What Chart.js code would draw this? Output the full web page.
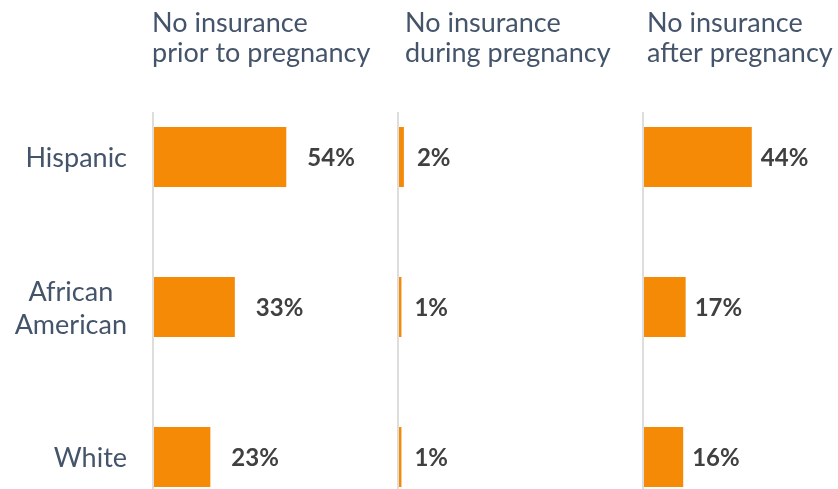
<!DOCTYPE html>
<html>
<head>
<meta charset="utf-8">
<script src="https://cdn.jsdelivr.net/npm/chart.js@4.4.1/dist/chart.umd.min.js"></script>
<style>
  html, body { margin: 0; padding: 0; background: #ffffff; overflow: hidden; width: 838px; height: 489px; }
  .panel { position: absolute; left: 0; top: 0; }
</style>
</head>
<body>
<canvas id="p0" class="panel" width="900" height="540"></canvas>
<canvas id="p1" class="panel" width="900" height="540"></canvas>
<canvas id="p2" class="panel" width="900" height="540"></canvas>
<script>
// Categories (multi-line where the label wraps)
const categories = ['Hispanic', ['African', 'American'], 'White'];

// Share of women without insurance, percent
const priorToPregnancy = [54, 33, 23];
const duringPregnancy = [2, 1, 1];
const afterPregnancy = [44, 17, 16];

// Panel headings
const headingPrior = ['No insurance', 'prior to pregnancy'];
const headingDuring = ['No insurance', 'during pregnancy'];
const headingAfter = ['No insurance', 'after pregnancy'];

// Value axis range shared by every panel
const valueMin = 0;
const valueMax = 100;

// Look and placement
const CANVAS_W = 900;
const PANEL_W = 245;
const BAR_COLOR = '#F58A07';
const TEXT_BLUE = '#44546A';
const TEXT_DARK = '#404040';
const AXIS_COLOR = '#DDDDDD';
const FONT = 'Lato, "Open Sans", sans-serif';

const panels = [
  { id: 'p0', values: priorToPregnancy, heading: headingPrior,  axisX: 154, headingX: 152, labelGap: 21, categoryLabels: true },
  { id: 'p1', values: duringPregnancy,  heading: headingDuring, axisX: 399, headingX: 405, labelGap: 13, categoryLabels: false },
  { id: 'p2', values: afterPregnancy,   heading: headingAfter,  axisX: 644, headingX: 647, labelGap: 9,  categoryLabels: false }
];

// Light vertical axis line at zero, starting a little above the first bar
const zeroLinePlugin = {
  id: 'zeroLine',
  beforeDatasetsDraw(chart) {
    const { ctx, chartArea, scales } = chart;
    const x = scales.x.getPixelForValue(0);
    ctx.save();
    ctx.strokeStyle = AXIS_COLOR;
    ctx.lineWidth = 2;
    ctx.beginPath();
    ctx.moveTo(x - 1, 112);
    ctx.lineTo(x - 1, chartArea.bottom);
    ctx.stroke();
    ctx.restore();
  }
};

// Percent labels to the right of each bar
const valueLabelPlugin = {
  id: 'valueLabels',
  afterDatasetsDraw(chart, args, opts) {
    const { ctx } = chart;
    const meta = chart.getDatasetMeta(0);
    const data = chart.data.datasets[0].data;
    ctx.save();
    ctx.font = 'bold 24px ' + FONT;
    ctx.fillStyle = TEXT_DARK;
    ctx.textAlign = 'left';
    ctx.textBaseline = 'alphabetic';
    meta.data.forEach((bar, i) => {
      ctx.fillText(data[i] + '%', bar.x + opts.gap, bar.y + 9);
    });
    ctx.restore();
  }
};

// Two-line heading above each panel
const headingPlugin = {
  id: 'heading',
  afterDraw(chart, args, opts) {
    const { ctx } = chart;
    ctx.save();
    ctx.font = '27px ' + FONT;
    ctx.fillStyle = TEXT_BLUE;
    ctx.textAlign = 'left';
    ctx.textBaseline = 'alphabetic';
    opts.lines.forEach((line, k) => ctx.fillText(line, opts.x, 32 + k * 30));
    ctx.restore();
  }
};

// Category names on the left, placed through the category scale
const categoryLabelPlugin = {
  id: 'categoryLabels',
  afterDraw(chart, args, opts) {
    if (!opts.show) return;
    const { ctx, scales } = chart;
    const lineH = 33;
    const rightEdge = 127;
    ctx.save();
    ctx.font = '27px ' + FONT;
    ctx.fillStyle = TEXT_BLUE;
    ctx.textAlign = 'center';
    ctx.textBaseline = 'alphabetic';
    chart.data.labels.forEach((label, i) => {
      const lines = Array.isArray(label) ? label : [label];
      const widest = Math.max(...lines.map(l => ctx.measureText(l).width));
      const cx = rightEdge - widest / 2;
      const y = scales.y.getPixelForValue(i);
      const first = y + 10 - lineH * (lines.length - 1) / 2;
      lines.forEach((l, k) => ctx.fillText(l, cx, first + k * lineH));
    });
    ctx.restore();
  }
};

panels.forEach(p => {
  new Chart(document.getElementById(p.id), {
    type: 'bar',
    data: {
      labels: categories,
      datasets: [{
        data: p.values,
        backgroundColor: BAR_COLOR,
        borderWidth: 0,
        categoryPercentage: 1,
        barPercentage: 0.4
      }]
    },
    options: {
      indexAxis: 'y',
      responsive: false,
      animation: false,
      events: [],
      layout: {
        padding: { left: p.axisX, right: CANVAS_W - p.axisX - PANEL_W, top: 82, bottom: 8 }
      },
      scales: {
        x: { display: false, min: valueMin, max: valueMax },
        y: { display: false }
      },
      plugins: {
        legend: { display: false },
        tooltip: { enabled: false },
        valueLabels: { gap: p.labelGap },
        heading: { lines: p.heading, x: p.headingX },
        categoryLabels: { show: p.categoryLabels }
      }
    },
    plugins: [zeroLinePlugin, valueLabelPlugin, headingPlugin, categoryLabelPlugin]
  });
});
</script>
</body>
</html>
